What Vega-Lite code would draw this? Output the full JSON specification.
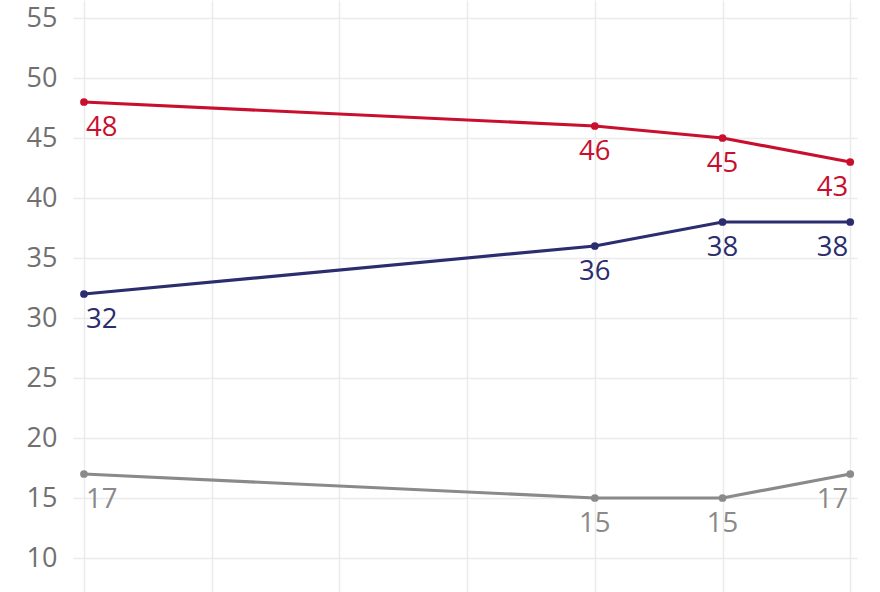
{
  "$schema": "https://vega.github.io/schema/vega-lite/v6.json",
  "autosize": "none",
  "width": 784,
  "height": 592,
  "padding": {"left": 73, "top": 0, "right": 23, "bottom": 0},
  "background": "white",
  "config": {
    "font": "Open Sans",
    "view": {"stroke": null}
  },
  "data": {
    "values": [
      {"poll": 0, "series": "Red", "value": 48},
      {"poll": 4, "series": "Red", "value": 46},
      {"poll": 5, "series": "Red", "value": 45},
      {"poll": 6, "series": "Red", "value": 43},
      {"poll": 0, "series": "Blue", "value": 32},
      {"poll": 4, "series": "Blue", "value": 36},
      {"poll": 5, "series": "Blue", "value": 38},
      {"poll": 6, "series": "Blue", "value": 38},
      {"poll": 0, "series": "Grey", "value": 17},
      {"poll": 4, "series": "Grey", "value": 15},
      {"poll": 5, "series": "Grey", "value": 15},
      {"poll": 6, "series": "Grey", "value": 17}
    ]
  },
  "encoding": {
    "x": {
      "field": "poll", "type": "quantitative",
      "scale": {"domain": [-0.086, 6.053], "nice": false, "zero": false},
      "axis": {"values": [0, 1, 2, 3, 4, 5, 6], "labels": false, "ticks": false, "domain": false, "title": null, "grid": true, "gridColor": "#ebebeb", "gridWidth": 1.5}
    },
    "y": {
      "field": "value", "type": "quantitative",
      "scale": {"domain": [7.1667, 56.5], "nice": false, "zero": false},
      "axis": {"values": [10, 15, 20, 25, 30, 35, 40, 45, 50, 55], "ticks": false, "domain": false, "title": null, "grid": true, "gridColor": "#ebebeb", "gridWidth": 1.5, "labelFontSize": 27, "labelColor": "#707070", "labelPadding": 16, "labelFont": "Open Sans"}
    },
    "color": {
      "field": "series", "type": "nominal",
      "scale": {"domain": ["Red", "Blue", "Grey"], "range": ["#c8102e", "#2b2d6e", "#8a8a8a"]},
      "legend": null
    }
  },
  "layer": [
    {"mark": {"type": "line", "strokeWidth": 3.2}, "encoding": {"detail": {"field": "series"}}},
    {"mark": {"type": "circle", "size": 60, "opacity": 1}},
    {
      "transform": [{"filter": "datum.poll == 0"}],
      "mark": {"type": "text", "align": "left", "baseline": "middle", "dx": 2, "dy": 26, "fontSize": 27.5},
      "encoding": {"text": {"field": "value", "type": "quantitative"}}
    },
    {
      "transform": [{"filter": "datum.poll > 0 && datum.poll < 6"}],
      "mark": {"type": "text", "align": "center", "baseline": "middle", "dy": 26, "fontSize": 27.5},
      "encoding": {"text": {"field": "value", "type": "quantitative"}}
    },
    {
      "transform": [{"filter": "datum.poll == 6"}],
      "mark": {"type": "text", "align": "right", "baseline": "middle", "dx": -2, "dy": 26, "fontSize": 27.5},
      "encoding": {"text": {"field": "value", "type": "quantitative"}}
    }
  ]
}
